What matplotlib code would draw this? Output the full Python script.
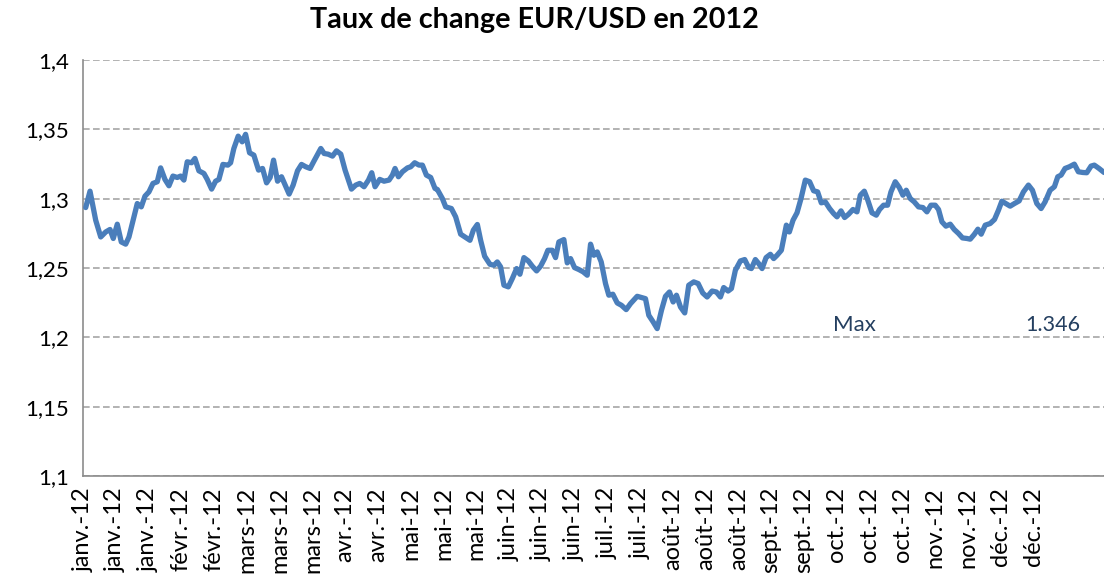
import matplotlib
matplotlib.use("Agg")
import matplotlib.pyplot as plt

# ── data: trading-day index (x) and EUR/USD rate (y) ──────────────────────────

day_idx = [
    0.74, 1.92, 3.48, 4.86, 6.23, 7.41, 8.31, 9.41, 10.51, 11.72,
    12.62, 13.53, 14.90, 16.00, 17.01, 18.11, 19.21, 20.39, 21.32, 22.50,
    23.60, 24.70, 25.88, 26.81, 27.71, 28.62, 29.83, 30.73, 31.83, 33.20,
    34.11, 35.32, 36.41, 37.32, 38.42, 39.79, 40.53, 41.43, 42.62, 43.71,
    44.65, 45.74, 46.92, 48.21, 49.31, 50.41, 51.40, 52.33, 53.43, 54.52,
    55.51, 56.61, 57.71, 58.91, 60.01, 61.19, 62.37, 63.47, 65.31, 66.21,
    67.31, 68.52, 69.62, 70.80, 71.98, 73.73, 74.91, 76.01, 77.19, 78.40,
    79.30, 80.21, 81.50, 82.68, 84.05, 84.98, 85.70, 86.63, 87.73, 89.10,
    90.00, 91.10, 92.28, 93.22, 94.31, 95.49, 96.67, 97.33, 98.70, 99.61,
    101.17, 102.35, 103.72, 105.10, 106.28, 107.21, 108.31, 109.21, 110.31, 111.76,
    112.86, 113.79, 114.70, 115.61, 116.81, 117.91, 119.09, 120.00, 121.10, 122.30,
    123.40, 124.58, 125.68, 126.77, 127.68, 128.89, 129.79, 130.70, 132.07, 133.00,
    133.91, 135.00, 136.19, 137.39, 138.49, 139.40, 140.31, 141.24, 142.33, 143.51,
    144.42, 145.52, 146.73, 147.90, 149.19, 150.37, 152.21, 153.39, 154.49, 155.40,
    156.60, 157.70, 158.88, 159.98, 161.08, 162.09, 163.00, 164.10, 165.27, 166.37,
    167.74, 168.95, 170.21, 171.42, 172.79, 173.97, 175.07, 175.97, 177.18, 178.09,
    179.18, 180.56, 181.74, 182.83, 183.57, 184.67, 185.58, 186.51, 187.61, 188.79,
    189.70, 190.63, 191.81, 193.18, 194.00, 195.02, 196.11, 197.21, 198.39, 199.57,
    200.67, 201.77, 202.78, 203.88, 205.06, 206.16, 207.09, 208.19, 209.18, 210.28,
    211.48, 212.58, 213.49, 214.59, 215.49, 216.70, 217.88, 218.78, 219.88, 220.98,
    221.91, 223.09, 224.19, 225.20, 226.11, 227.21, 228.30, 229.48, 230.69, 231.79,
    232.89, 234.07, 234.98, 235.91, 237.01, 238.19, 239.29, 240.47, 241.56, 242.77,
    243.68, 244.78, 245.79, 246.70, 247.80, 249.17, 250.35, 251.44, 252.37, 253.47,
    254.65, 255.83, 257.12, 258.30, 259.67, 260.77, 261.97, 263.15, 264.25, 265.62,
    266.80, 267.73, 268.64, 269.73, 270.91, 272.28, 273.38, 274.59, 275.69, 276.87,
    277.77, 279.06, 280.44,
]

eur_usd = [
    1.2936, 1.3054, 1.2845, 1.2724, 1.2760, 1.2778, 1.2713, 1.2816, 1.2688, 1.2672,
    1.2724, 1.2821, 1.2965, 1.2941, 1.3018, 1.3049, 1.3110, 1.3122, 1.3222, 1.3139,
    1.3093, 1.3163, 1.3153, 1.3163, 1.3134, 1.3266, 1.3259, 1.3290, 1.3201, 1.3182,
    1.3139, 1.3069, 1.3126, 1.3139, 1.3247, 1.3242, 1.3259, 1.3362, 1.3451, 1.3410,
    1.3464, 1.3331, 1.3314, 1.3206, 1.3218, 1.3114, 1.3153, 1.3278, 1.3126, 1.3158,
    1.3098, 1.3033, 1.3098, 1.3201, 1.3247, 1.3230, 1.3218, 1.3273, 1.3362, 1.3326,
    1.3321, 1.3307, 1.3345, 1.3321, 1.3206, 1.3069, 1.3098, 1.3110, 1.3086, 1.3134,
    1.3187, 1.3086, 1.3139, 1.3126, 1.3134, 1.3170, 1.3218, 1.3158, 1.3194, 1.3222,
    1.3230, 1.3259, 1.3242, 1.3242, 1.3170, 1.3153, 1.3074, 1.3066, 1.3001, 1.2941,
    1.2929, 1.2869, 1.2744, 1.2720, 1.2700, 1.2773, 1.2814, 1.2700, 1.2585, 1.2527,
    1.2520, 1.2544, 1.2508, 1.2376, 1.2364, 1.2424, 1.2496, 1.2455, 1.2575, 1.2551,
    1.2513, 1.2479, 1.2513, 1.2568, 1.2628, 1.2628, 1.2575, 1.2688, 1.2705, 1.2537,
    1.2568, 1.2503, 1.2489, 1.2472, 1.2448, 1.2672, 1.2592, 1.2616, 1.2544, 1.2388,
    1.2304, 1.2311, 1.2248, 1.2231, 1.2200, 1.2243, 1.2296, 1.2287, 1.2279, 1.2159,
    1.2111, 1.2063, 1.2195, 1.2296, 1.2327, 1.2255, 1.2304, 1.2219, 1.2176, 1.2376,
    1.2400, 1.2388, 1.2320, 1.2291, 1.2334, 1.2327, 1.2291, 1.2359, 1.2334, 1.2352,
    1.2484, 1.2551, 1.2561, 1.2503, 1.2496, 1.2561, 1.2532, 1.2496, 1.2575, 1.2599,
    1.2568, 1.2592, 1.2628, 1.2809, 1.2760, 1.2845, 1.2898, 1.3001, 1.3134, 1.3122,
    1.3057, 1.3049, 1.2970, 1.2977, 1.2929, 1.2893, 1.2869, 1.2912, 1.2864, 1.2888,
    1.2922, 1.2905, 1.3025, 1.3054, 1.2994, 1.2898, 1.2881, 1.2922, 1.2953, 1.2953,
    1.3049, 1.3122, 1.3081, 1.3025, 1.3061, 1.3001, 1.2977, 1.2941, 1.2936, 1.2905,
    1.2953, 1.2953, 1.2922, 1.2833, 1.2802, 1.2816, 1.2778, 1.2749, 1.2717, 1.2713,
    1.2708, 1.2742, 1.2780, 1.2744, 1.2809, 1.2821, 1.2850, 1.2917, 1.2982, 1.2965,
    1.2946, 1.2965, 1.2984, 1.3049, 1.3098, 1.3061, 1.2965, 1.2929, 1.2977, 1.3061,
    1.3086, 1.3158, 1.3170, 1.3218, 1.3230, 1.3249, 1.3194, 1.3189, 1.3187, 1.3235,
    1.3242, 1.3218, 1.3189,
]

month_labels = [
    "janv.-12", "janv.-12", "janv.-12", "févr.-12", "févr.-12",
    "mars-12", "mars-12", "mars-12", "avr.-12", "avr.-12",
    "mai-12", "mai-12", "mai-12", "juin-12", "juin-12", "juin-12",
    "juil.-12", "juil.-12", "août-12", "août-12", "août-12",
    "sept.-12", "sept.-12", "oct.-12", "oct.-12", "oct.-12",
    "nov.-12", "nov.-12", "déc.-12", "déc.-12",
]
LABEL_STEP = 9  # one date label every 9 trading days

y_ticks = [1.1, 1.15, 1.2, 1.25, 1.3, 1.35, 1.4]

LINE_COLOR = "#4a7ebb"
TEXT_BLUE = "#243f60"
GRID_GREY = "#a6a6a6"

plt.rcParams["font.family"] = ["Lato", "DejaVu Sans"]

fig = plt.figure(figsize=(11.04, 5.82), dpi=100)
ax = fig.add_axes([0.0752, 0.1821, 0.9257, 0.7148])

ax.plot(day_idx, eur_usd, color=LINE_COLOR, linewidth=3.8,
        solid_joinstyle="round", solid_capstyle="round", zorder=3)

ax.set_xlim(0.27, 280.7)
ax.set_ylim(1.1, 1.4)

ax.set_yticks(y_ticks)
ax.set_yticklabels([f"{v:g}".replace(".", ",") for v in y_ticks], fontsize=16)
ax.set_xticks([i * LABEL_STEP for i in range(len(month_labels))])
ax.set_xticklabels(month_labels, rotation=90, fontsize=17)
ax.tick_params(axis="y", length=0, pad=10)
ax.tick_params(axis="x", length=0, pad=8)

ax.grid(axis="y", color=GRID_GREY, linestyle=(0, (4, 2)), linewidth=1.2)
ax.set_axisbelow(True)
for side in ("top", "right"):
    ax.spines[side].set_visible(False)
for side in ("left", "bottom"):
    ax.spines[side].set_color("#8c8c8c")
    ax.spines[side].set_linewidth(1.2)

# Max annotation
ax.text(212, 1.2087, "Max", color=TEXT_BLUE, fontsize=16,
        ha="center", va="center")
ax.text(266.4, 1.2087, f"{max(eur_usd):.3f}", color=TEXT_BLUE, fontsize=15.5,
        ha="center", va="center")

fig.text(0.484, 0.966, "Taux de change EUR/USD en 2012", ha="center",
         va="center", fontsize=20.7, fontweight="bold")

fig.savefig("out.png", dpi=100)
